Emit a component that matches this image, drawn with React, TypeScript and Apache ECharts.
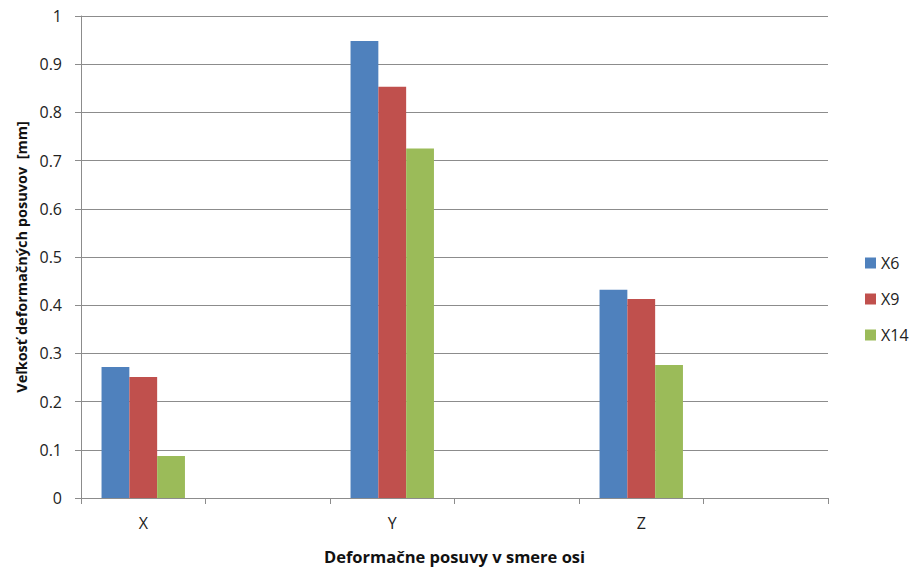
import React, { useEffect, useRef } from "react";
import * as echarts from "echarts";

const categories = ["X", " ", "Y", "  ", "Z", "   "];
const seriesNames = ["X6", "X9", "X14"];
const x6Values = [0.272, null, 0.948, null, 0.432, null];
const x9Values = [0.251, null, 0.853, null, 0.413, null];
const x14Values = [0.087, null, 0.725, null, 0.276, null];
const colors = ["#4F81BD", "#C0504D", "#9BBB59"];
const yTicks = { min: 0, max: 1, interval: 0.1 };

const FONT = "'Open Sans', 'Noto Sans', sans-serif";

export default function App() {
  const ref = useRef<HTMLDivElement>(null);
  useEffect(() => {
    if (!ref.current) return;
    const chart = echarts.init(ref.current, undefined, { renderer: "svg" });
    const values = [x6Values, x9Values, x14Values];
    chart.setOption({
      animation: false,
      backgroundColor: "#ffffff",
      textStyle: { fontFamily: FONT },
      grid: { left: 81, right: 82, top: 16, bottom: 70, containLabel: false },
      legend: {
        orient: "vertical",
        left: 860,
        top: 250,
        itemWidth: 11,
        itemHeight: 11,
        itemGap: 20,
        icon: "rect",
        textStyle: { fontSize: 16, color: "#222", fontFamily: FONT },
        data: seriesNames,
      },
      xAxis: {
        type: "category",
        data: categories,
        name: "Deformačne posuvy v smere osi",
        nameLocation: "middle",
        nameGap: 50,
        nameTextStyle: { fontSize: 16.5, fontWeight: "bold", color: "#111", fontFamily: FONT },
        axisLine: { lineStyle: { color: "#8c8c8c", width: 1 } },
        axisTick: { show: true, length: 6, lineStyle: { color: "#8c8c8c" } },
        axisLabel: { fontSize: 16, color: "#222", margin: 17, fontFamily: FONT },
      },
      yAxis: {
        type: "value",
        min: yTicks.min,
        max: yTicks.max,
        interval: yTicks.interval,
        name: "Veľkosť deformačných posuvov  [mm]",
        nameLocation: "middle",
        nameGap: 52,
        nameRotate: 90,
        nameTextStyle: { fontSize: 14.5, fontWeight: "bold", color: "#111", fontFamily: FONT },
        axisLine: { show: true, lineStyle: { color: "#8c8c8c", width: 1 } },
        axisTick: { show: true, length: 6, lineStyle: { color: "#8c8c8c" } },
        axisLabel: { fontSize: 16, color: "#222", margin: 19, fontFamily: FONT },
        splitLine: { lineStyle: { color: "#8c8c8c", width: 1 } },
      },
      series: seriesNames.map((name, i) => ({
        name,
        type: "bar",
        data: values[i],
        barGap: "0%",
        barCategoryGap: "33%",
        itemStyle: { color: colors[i] },
      })),
    });
    return () => chart.dispose();
  }, []);
  return <div ref={ref} style={{ width: 910, height: 570, position: "absolute", left: 0, top: 0 }} />;
}
